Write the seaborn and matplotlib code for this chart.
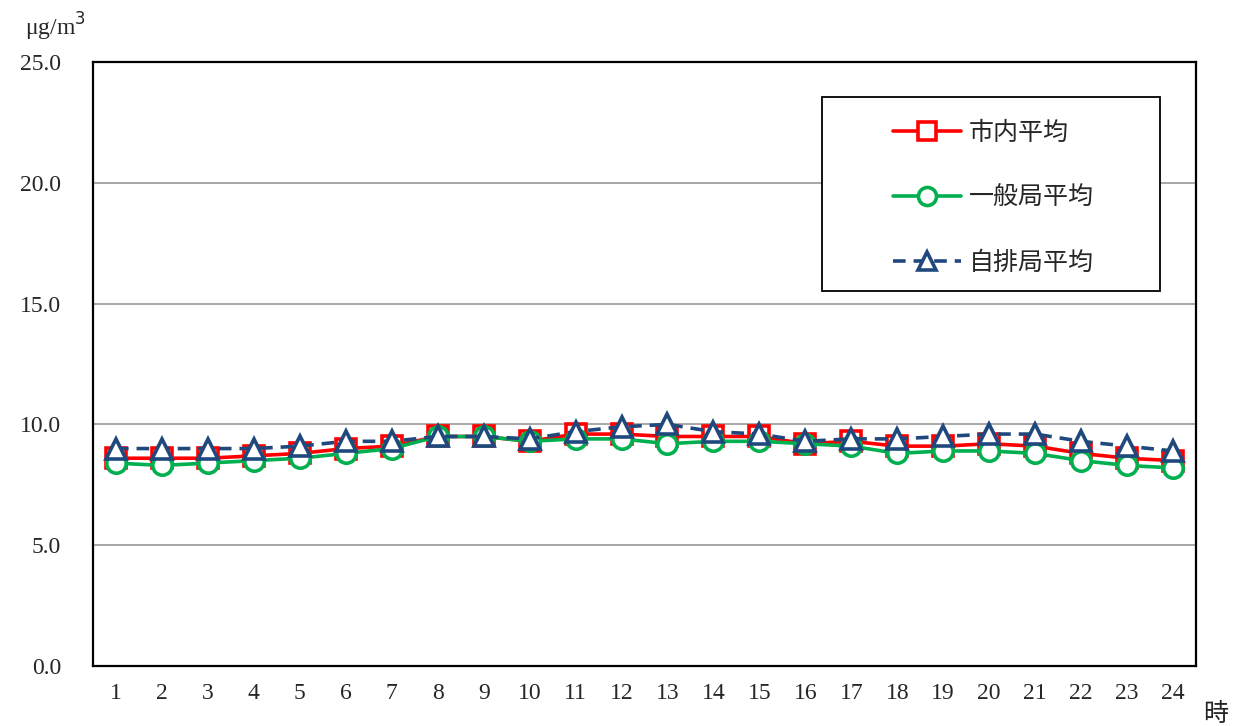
import matplotlib
matplotlib.use("Agg")
import matplotlib.pyplot as plt
import seaborn as sns
import pandas as pd
from matplotlib.lines import Line2D
from matplotlib.patches import Rectangle

# Hourly averages (μg/m³)
hours = list(range(1, 25))
city_avg = [8.6, 8.6, 8.6, 8.7, 8.8, 9.0, 9.1, 9.5, 9.5, 9.3, 9.6, 9.6,
            9.5, 9.5, 9.5, 9.2, 9.3, 9.1, 9.1, 9.2, 9.1, 8.8, 8.6, 8.5]
general_avg = [8.4, 8.3, 8.4, 8.5, 8.6, 8.8, 9.0, 9.5, 9.5, 9.3, 9.4, 9.4,
               9.2, 9.3, 9.3, 9.2, 9.1, 8.8, 8.9, 8.9, 8.8, 8.5, 8.3, 8.2]
roadside_avg = [9.0, 9.0, 9.0, 9.0, 9.1, 9.3, 9.3, 9.5, 9.5, 9.4, 9.7, 9.9,
                10.0, 9.7, 9.6, 9.3, 9.4, 9.4, 9.5, 9.6, 9.6, 9.3, 9.1, 8.9]
series_names = ["市内平均", "一般局平均", "自排局平均"]
y_ticks = [0, 5, 10, 15, 20, 25]

sns.set_theme(style="white")
plt.rcParams["font.family"] = ["Noto Sans CJK JP", "DejaVu Sans"]

fig = plt.figure(figsize=(12.38, 7.26), dpi=100)
ax = fig.add_axes([93 / 1238, 1 - 666 / 726, 1103 / 1238, 604 / 726])

styles = [
    dict(color="#FF0000", marker="s", linestyle="-"),
    dict(color="#00B050", marker="o", linestyle="-"),
    dict(color="#1F497D", marker="^", linestyle=(0, (3.5, 2.2))),
]
handles = []
for z, (name, vals, st) in enumerate(zip(series_names,
                                         [city_avg, general_avg, roadside_avg],
                                         styles)):
    df = pd.DataFrame({"hour": hours, "value": vals})
    sns.lineplot(data=df, x="hour", y="value", ax=ax, color=st["color"],
                 marker=st["marker"], markersize=14, markeredgewidth=2.6,
                 markerfacecolor="white", markeredgecolor=st["color"],
                 linewidth=2.6, zorder=3 + z, legend=False)
    ax.lines[-1].set_linestyle(st["linestyle"])
    handles.append(Line2D([], [], color=st["color"], marker=st["marker"],
                          linestyle=st["linestyle"], linewidth=2.6,
                          markersize=13, markeredgewidth=2.6,
                          markerfacecolor="white", markeredgecolor=st["color"]))

ax.set_xlim(0.5, 24.5)
ax.set_ylim(0, 25)
ax.set_xlabel("")
ax.set_ylabel("")

serif = ["Liberation Serif", "Noto Sans CJK JP"]
ax.set_yticks(y_ticks)
ax.set_yticklabels([f"{v:.1f}" for v in y_ticks], fontsize=17, family=serif)
ax.set_xticks(hours)
ax.set_xticklabels([str(h) for h in hours], fontsize=17, family=serif)
ax.set_xticks([h + 0.5 for h in range(0, 24)], minor=True)
ax.tick_params(axis="x", which="major", length=0, pad=12)
ax.tick_params(axis="x", which="minor", length=6, width=1.5, direction="out",
               color="black")
ax.tick_params(axis="y", which="major", length=6, width=1.5, direction="out",
               color="black", pad=17)

ax.grid(axis="y", color="#A0A0A0", linewidth=1.3)
ax.grid(axis="x", visible=False)
for sp in ax.spines.values():
    sp.set_visible(True)
    sp.set_color("black")
    sp.set_linewidth(1.6)

fig.text(25 / 1238, 1 - 27 / 726, "μg/m$^3$", fontsize=17, family=serif,
         ha="left", va="center")
fig.text(1203 / 1238, 1 - 714 / 726, "時", fontsize=18, ha="left",
         va="center")

# legend frame drawn separately so it can be wider than its contents
ax.add_patch(Rectangle((729 / 1103, 375 / 604), 338 / 1103, 194 / 604,
                       transform=ax.transAxes, facecolor="white",
                       edgecolor="black", linewidth=1.3, zorder=9))
leg = ax.legend(handles, series_names, loc="upper left",
                bbox_to_anchor=(800 / 1103, 546 / 604), fontsize=18,
                frameon=False, handlelength=2.7, handletextpad=0.35,
                labelspacing=1.55, borderpad=0, borderaxespad=0)
leg.set_zorder(10)

fig.savefig("out.png", dpi=100, facecolor="white")
